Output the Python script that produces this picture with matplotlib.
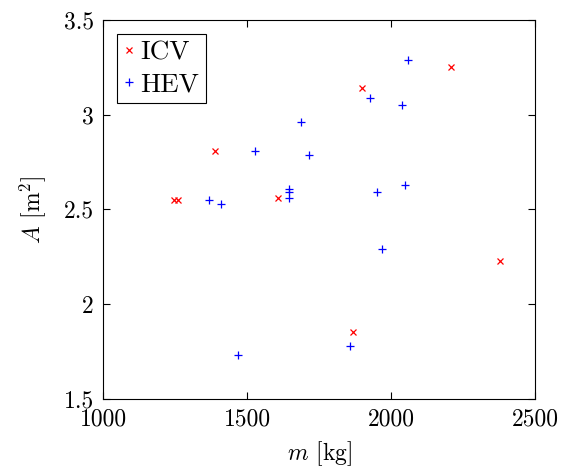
import numpy as np
from matplotlib import pyplot as plt
from matplotlib.ticker import FormatStrFormatter

plt.rcParams['font.family'] = 'serif'
plt.rcParams['font.serif'] = ['cmr10']
plt.rcParams['mathtext.fontset'] = 'cm'
plt.rcParams['axes.unicode_minus'] = False

# vehicle mass [kg] and frontal area [m^2]
icv_mass = [1245, 1258, 1388, 1608, 1866, 1897, 2208, 2378]
icv_area = [2.55, 2.55, 2.81, 2.56, 1.85, 3.14, 3.25, 2.23]

hev_mass = [1367, 1407, 1466, 1527, 1646, 1646, 1646, 1686, 1715,
            1857, 1926, 1950, 1967, 2037, 2049, 2057]
hev_area = [2.55, 2.53, 1.73, 2.81, 2.61, 2.59, 2.56, 2.96, 2.79,
            1.78, 3.09, 2.59, 2.29, 3.05, 2.63, 3.29]

x_ticks = [1000, 1500, 2000, 2500]
y_ticks = [1.5, 2, 2.5, 3, 3.5]

fig = plt.figure(figsize=(5.74, 4.7), dpi=100)
ax = fig.add_axes([0.1803, 0.1517, 0.7517, 0.8055])

ax.plot(icv_mass, icv_area, linestyle='none', marker='x', color='red',
        markersize=4.5, markeredgewidth=0.9, label='ICV')
ax.plot(hev_mass, hev_area, linestyle='none', marker='+', color='blue',
        markersize=6.3, markeredgewidth=0.9, label='HEV')

ax.set_xlim(1000, 2500)
ax.set_ylim(1.5, 3.5)
ax.set_xticks(x_ticks)
ax.set_yticks(y_ticks)
ax.yaxis.set_major_formatter(FormatStrFormatter('%g'))
ax.tick_params(direction='in', top=True, right=True, length=5,
               width=0.8, labelsize=17, pad=7)
for spine in ax.spines.values():
    spine.set_linewidth(0.8)

ax.set_xlabel('$m$ [kg]', fontsize=17, labelpad=6)
ax.set_ylabel('$A$ [m$^2$]', fontsize=17, labelpad=11)

leg = ax.legend(loc='upper left', fontsize=19.5, fancybox=False,
                edgecolor='black', framealpha=1, handlelength=0.4,
                handletextpad=0.2, borderpad=0.25, labelspacing=0.3,
                borderaxespad=0.5)
leg.get_frame().set_linewidth(0.8)

plt.savefig('out.png', dpi=100)
